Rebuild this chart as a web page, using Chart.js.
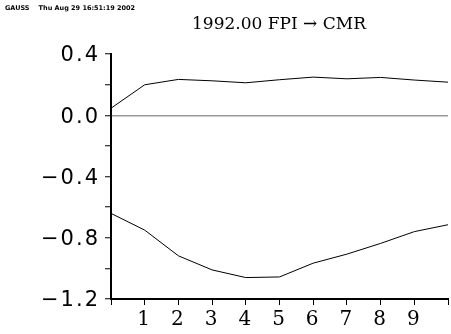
<!DOCTYPE html>
<html><head><meta charset="utf-8">
<script src="https://cdn.jsdelivr.net/npm/chart.js@4"></script>
<style>html,body{margin:0;padding:0;background:#fff}#wrap{width:451px;height:334px}</style>
</head><body><div id="wrap"><canvas id="c" width="451" height="334"></canvas></div>
<script>
// Impulse response horizons and the two band series
const horizons = [0, 1, 2, 3, 4, 5, 6, 7, 8, 9, 10];
const upperBand = [0.046, 0.199, 0.234, 0.225, 0.212, 0.232, 0.249, 0.238, 0.247, 0.230, 0.216];
const lowerBand = [-0.641, -0.750, -0.918, -1.010, -1.060, -1.056, -0.966, -0.907, -0.837, -0.760, -0.715];
const xTickLabels = ['', '1', '2', '3', '4', '5', '6', '7', '8', '9', ''];
const yTickLabels = ['\u22121.2', '\u22120.8', '\u22120.4', '0.0', '0.4'];
const titleText = '1992.00 FPI \u2192 CMR';
const headerText = 'GAUSS    Thu Aug 29 16:51:19 2002';

const toPoints = vals => vals.map((v, i) => ({ x: horizons[i], y: v }));

const textPlugin = {
  id: 'headerText',
  beforeDraw(chart) {
    chart.ctx.letterSpacing = '2px';
  },
  afterDraw(chart) {
    const ctx = chart.ctx;
    ctx.save();
    ctx.letterSpacing = '0px';
    ctx.fillStyle = '#000';
    ctx.font = 'bold 6.5px "DejaVu Sans"';
    ctx.textAlign = 'left';
    ctx.textBaseline = 'middle';
    ctx.fillText(headerText, 5, 8);
    ctx.font = '17px "DejaVu Serif"';
    ctx.textAlign = 'center';
    ctx.textBaseline = 'alphabetic';
    ctx.fillText(titleText, 279, 29);
    ctx.restore();
  }
};

new Chart(document.getElementById('c'), {
  type: 'line',
  data: {
    datasets: [
      { data: toPoints(upperBand), borderColor: '#000', borderWidth: 1, pointRadius: 0, tension: 0, fill: false },
      { data: toPoints(lowerBand), borderColor: '#000', borderWidth: 1, pointRadius: 0, tension: 0, fill: false }
    ]
  },
  options: {
    responsive: false,
    animation: false,
    devicePixelRatio: 1,
    layout: { padding: { top: 54, right: 1, left: 0, bottom: 0 } },
    plugins: { legend: { display: false }, tooltip: { enabled: false }, title: { display: false } },
    scales: {
      x: {
        type: 'linear', min: 0, max: 10,
        ticks: {
          stepSize: 1, autoSkip: false, maxRotation: 0, color: '#000', padding: 3,
          font: { family: 'DejaVu Serif', size: 20 },
          callback: v => xTickLabels[Math.round(v)] ?? ''
        },
        grid: { drawOnChartArea: false, tickLength: 6, tickColor: '#000', tickWidth: 1 },
        border: { color: '#000', width: 2 },
        afterFit: s => { s.height = 35; }
      },
      y: {
        min: -1.2, max: 0.4,
        ticks: {
          stepSize: 0.2, autoSkip: false, color: '#000', padding: 5, labelOffset: 2,
          font: { family: 'DejaVu Sans', size: 21 },
          callback: v => {
            const k = (v + 1.2) / 0.4;
            const r = Math.round(k);
            return Math.abs(k - r) < 1e-6 ? yTickLabels[r] : '';
          }
        },
        grid: {
          drawOnChartArea: true, tickLength: 6, tickColor: '#000', tickWidth: 1, lineWidth: 1.5,
          color: c => (c.tick && Math.abs(c.tick.value) < 1e-9) ? '#9a9a9a' : 'rgba(0,0,0,0)'
        },
        border: { color: '#000', width: 2 },
        afterFit: s => { s.width = 111; }
      }
    }
  },
  plugins: [textPlugin]
});
</script></body></html>
